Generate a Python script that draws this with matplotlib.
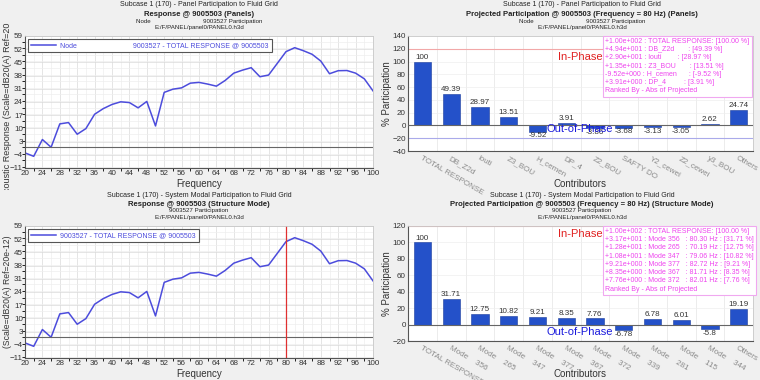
import matplotlib
matplotlib.use('Agg')
import matplotlib.pyplot as plt
from matplotlib.ticker import MultipleLocator
from matplotlib.transforms import Bbox, TransformedBbox, ScaledTranslation

plt.rcParams['font.family'] = ['Liberation Sans', 'DejaVu Sans']

freq = list(range(20, 101, 2))
response = [-3.0, -4.8, 4.1, 0.0, 12.4, 13.1, 6.9, 9.9, 17.5, 20.5, 22.7,
            24.1, 23.7, 20.9, 24.3, 11.3, 29.1, 30.8, 31.5, 34.0, 34.4,
            33.5, 32.4, 35.4, 39.3, 40.9, 42.2, 37.4, 38.3, 44.5, 50.7,
            52.8, 51.2, 49.3, 45.7, 39.0, 40.6, 40.7, 39.3, 36.3, 29.9]
resp_yticks = [-11, -4, 3, 10, 17, 24, 31, 38, 45, 52, 59]

panel_names = ['TOTAL RESPONSE', 'DB_Z2d', 'louti', 'Z3_BOU', 'H_cemen', 'DP_4',
               'Z2_BOU', 'SAFTY DO', 'Y2_cewei', 'Z2_cewei', 'y3_BOU', 'Others']
panel_values = [100, 49.39, 28.97, 13.51, -9.52, 3.91, -3.86, -3.68, -3.13,
                -3.05, 2.62, 24.74]
panel_legend = ['+1.00e+002 : TOTAL RESPONSE: [100.00 %]',
                '+4.94e+001 : DB_Z2d       : [49.39 %]',
                '+2.90e+001 : louti        : [28.97 %]',
                '+1.35e+001 : Z3_BOU       : [13.51 %]',
                '-9.52e+000 : H_cemen      : [-9.52 %]',
                '+3.91e+000 : DP_4         : [3.91 %]',
                'Ranked By - Abs of Projected']

mode_names = ['TOTAL RESPONSE', 'Mode    356', 'Mode    265', 'Mode    347',
              'Mode    377', 'Mode    367', 'Mode    372', 'Mode    339',
              'Mode    281', 'Mode    115', 'Mode    344', 'Others']
mode_values = [100, 31.71, 12.75, 10.82, 9.21, 8.35, 7.76, -6.78, 6.78, 6.01,
               -5.8, 19.19]
mode_legend = ['+1.00e+002 : TOTAL RESPONSE: [100.00 %]',
               '+3.17e+001 : Mode 356   : 80.30 Hz : [31.71 %]',
               '+1.28e+001 : Mode 265   : 70.19 Hz : [12.75 %]',
               '+1.08e+001 : Mode 347   : 79.06 Hz : [10.82 %]',
               '+9.21e+000 : Mode 377   : 82.72 Hz : [9.21 %]',
               '+8.35e+000 : Mode 367   : 81.71 Hz : [8.35 %]',
               '+7.76e+000 : Mode 372   : 82.01 Hz : [7.76 %]',
               'Ranked By - Abs of Projected']

W, H = 760, 380
fig = plt.figure(figsize=(7.6, 3.8), dpi=100, facecolor='#f0f0f0')


def box(l, t, r, b):
    return [l / W, 1 - b / H, (r - l) / W, (b - t) / H]


def titles(cx, top, lines):
    sizes = [5.0, 5.5, 4.4, 4.4]
    for (txt, bold), size, dy in zip(lines, sizes, [5, 14, 21, 27]):
        fig.text(cx / W, 1 - (top + dy) / H, txt, ha='center', va='center',
                 fontsize=size, fontweight='bold' if bold else 'normal',
                 color='#222222')


def style(ax):
    ax.set_facecolor('white')
    for s in ['left', 'bottom']:
        ax.spines[s].set_color('#555555')
        ax.spines[s].set_linewidth(0.8)
    for s in ['top', 'right']:
        ax.spines[s].set_color('#c8c8c8')
        ax.spines[s].set_linewidth(0.6)
    ax.tick_params(length=0, labelsize=5.8, pad=1.5, colors='#333333')


line_color = '#4c4cdc'


def response_plot(top, legend_label, ylabel, clip_rect, label_y, label_size,
                  marker=False):
    ax = fig.add_axes(box(25, top + 36, 373, top + 168))
    style(ax)
    ax.plot(freq, response, color=line_color, lw=1.1, label=legend_label)
    ax.axhline(0, color='#666666', lw=0.8)
    if marker:
        ax.axvline(80, color='#e03030', lw=0.9)
    ax.set_xlim(20, 100)
    ax.set_ylim(-11, 59)
    ax.set_xticks(range(20, 101, 4))
    ax.set_yticks(resp_yticks)
    ax.xaxis.set_minor_locator(MultipleLocator(2))
    ax.yaxis.set_minor_locator(MultipleLocator(3.5))
    ax.grid(which='major', color='#dadada', lw=0.5)
    ax.grid(which='minor', color='#eeeeee', lw=0.5)
    ax.set_axisbelow(True)
    ax.set_xlabel('Frequency', fontsize=7, color='#333333')
    ax.xaxis.set_label_coords(0.5, -0.083)
    lab = ax.set_ylabel(ylabel, fontsize=label_size, color='#333333')
    ax.yaxis.set_label_coords(-0.036, label_y)
    lab.set_clip_box(TransformedBbox(Bbox.from_extents(*clip_rect), fig.transFigure))
    lab.set_clip_on(True)
    leg = ax.legend(loc='upper left', bbox_to_anchor=(0.009, 0.977),
                    borderaxespad=0, fontsize=5.0, fancybox=False,
                    framealpha=1, handlelength=3.6, borderpad=0.45,
                    handletextpad=0.6)
    leg.get_frame().set_edgecolor('#555555')
    leg.get_frame().set_linewidth(0.8)
    for t in leg.get_texts():
        t.set_color(line_color)
    return ax


titles(199, 0, [('Subcase 1 (170) - Panel Participation to Fluid Grid', False),
                ('Response @ 9005503 (Panels)', True),
                ('Node                              9003527 Participation', False),
                ('E:/F/PANEL/panel0/PANEL0.h3d', False)])
response_plot(0, 'Node' + ' ' * 28 + '9003527 - TOTAL RESPONSE @ 9005503',
              'Acoustic Response (Scale=dB20(A) Ref=20', (0, 0.5, 0.5, 1),
              0.44, 6.5)

titles(199, 190, [('Subcase 1 (170) - System Modal Participation to Fluid Grid', False),
                  ('Response @ 9005503 (Structure Mode)', True),
                  ('9003527 Participation', False),
                  ('E:/F/PANEL/panel0/PANEL0.h3d', False)])
response_plot(190, '9003527 - TOTAL RESPONSE @ 9005503',
              '(Scale=dB20(A) Ref=20e-12)', (0, 0, 0.5, 0.5), 0.5, 6.2,
              marker=True)


def bar_plot(top, names, values, ylim, step, leg_lines, in_y, out_y):
    ax = fig.add_axes(box(408, top + 36, 753, top + 151))
    style(ax)
    x = list(range(len(names)))
    ax.bar(x, values, width=0.6, color='#2451c9', edgecolor='#1a3c9c',
           linewidth=0.4, zorder=3)
    ax.axhline(0, color='#666666', lw=0.8, zorder=4)
    ax.axhline(120, color='#f2a8a8', lw=0.8, zorder=2)
    ax.axhline(-20, color='#aaaaea', lw=0.8, zorder=2)
    ax.set_xlim(-0.5, len(names) - 0.5)
    ax.set_ylim(*ylim)
    ax.set_yticks(range(ylim[0], ylim[1] + 1, step))
    ax.set_xticks(x)
    ax.set_xticks([i + 0.5 for i in x[:-1]], minor=True)
    ax.grid(which='minor', axis='x', color='#e4e4e4', lw=0.5)
    ax.grid(which='major', axis='y', color='#eeeeee', lw=0.5)
    ax.set_axisbelow(True)
    off = ScaledTranslation(-5 / 100, 0, fig.dpi_scale_trans)
    ax.set_xticklabels(names, rotation=-30, ha='left', va='top',
                       rotation_mode='anchor', fontsize=5.8, color='#8a8a8a')
    for t in ax.get_xticklabels():
        t.set_transform(t.get_transform() + off)
    ax.tick_params(axis='x', which='both', length=0, pad=3)
    for xi, v in zip(x, values):
        lbl = '%g' % v
        if v >= 0:
            ax.annotate(lbl, (xi, v), xytext=(0, 0.5), textcoords='offset points',
                        ha='center', va='bottom', fontsize=5.8, color='#333333',
                        zorder=5)
        else:
            ax.annotate(lbl, (xi, v), xytext=(0, -0.5), textcoords='offset points',
                        ha='center', va='top', fontsize=5.8, color='#333333',
                        zorder=5)
    ax.set_xlabel('Contributors', fontsize=7, color='#333333')
    ax.xaxis.set_label_coords(0.5, -0.243)
    ax.set_ylabel('% Participation', fontsize=7, color='#333333')
    ax.yaxis.set_label_coords(-0.046, 0.5)
    ax.text(0.571, 0.983, '\n'.join(leg_lines), transform=ax.transAxes,
            ha='left', va='top', fontsize=5.0, color='#ee44ee', linespacing=1.25,
            zorder=6, bbox=dict(boxstyle='square,pad=0.35', fc='white',
                                ec='#f0a8f0', lw=0.8))
    ax.text(0.4986, in_y, 'In-Phase', transform=ax.transAxes, ha='center',
            va='center', fontsize=8, color='#e02020', zorder=6)
    ax.text(0.4986, out_y, 'Out-of-Phase', transform=ax.transAxes, ha='center',
            va='center', fontsize=8, color='#1a1adc', zorder=6)
    return ax


titles(582, 0, [('Subcase 1 (170) - Panel Participation to Fluid Grid', False),
                ('Projected Participation @ 9005503 (Frequency = 80 Hz) (Panels)', True),
                ('Node                              9003527 Participation', False),
                ('E:/F/PANEL/panel0/PANEL0.h3d', False)])
bar_plot(0, panel_names, panel_values, (-40, 140), 20, panel_legend,
         0.817, 0.191)

titles(582, 190, [('Subcase 1 (170) - System Modal Participation to Fluid Grid', False),
                  ('Projected Participation @ 9005503 (Frequency = 80 Hz) (Structure Mode)', True),
                  ('9003527 Participation', False),
                  ('E:/F/PANEL/panel0/PANEL0.h3d', False)])
bar_plot(190, mode_names, mode_values, (-20, 120), 20, mode_legend,
         0.93, 0.078)

fig.savefig('out.png', dpi=100, facecolor=fig.get_facecolor())
